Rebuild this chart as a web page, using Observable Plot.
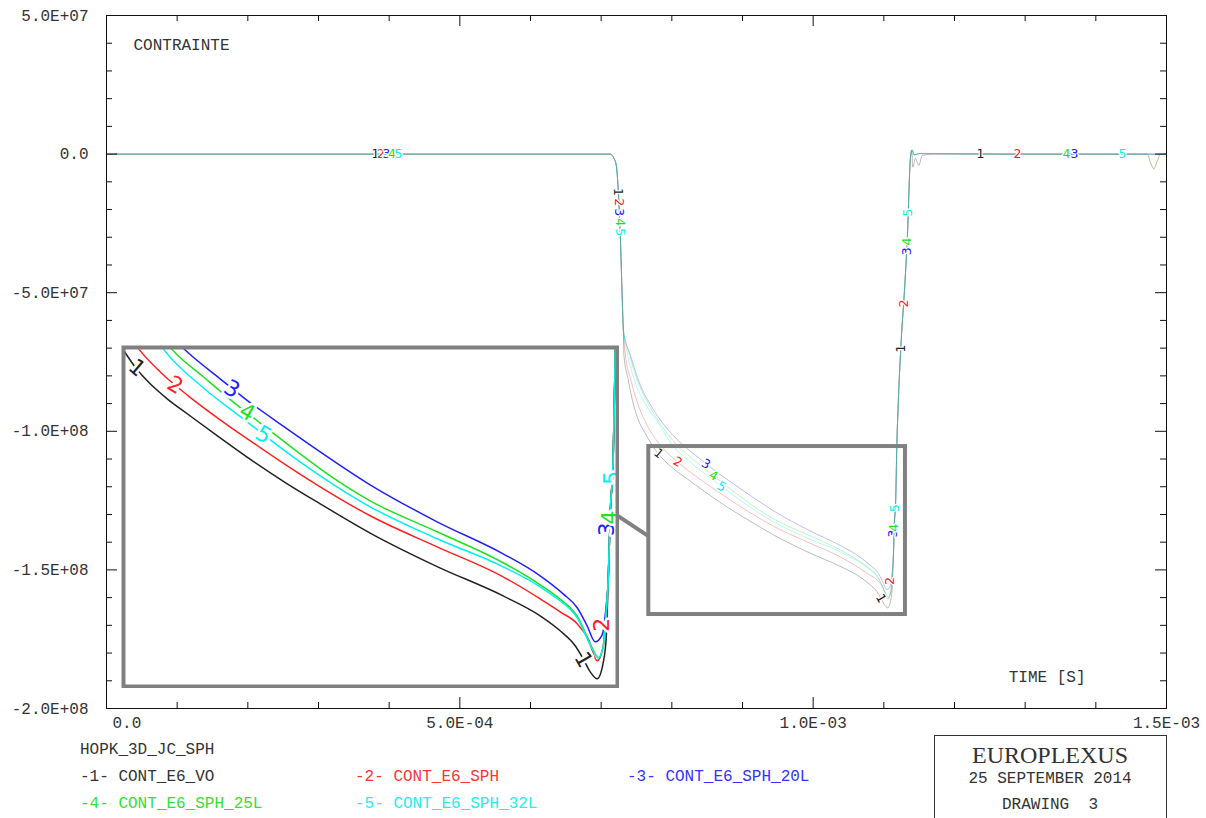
<!DOCTYPE html>
<html><head><meta charset="utf-8">
<script src="https://cdn.jsdelivr.net/npm/d3@7"></script>
<script src="https://cdn.jsdelivr.net/npm/@observablehq/plot@0.6"></script>
<style>
body{margin:0;background:#fff;}
#wrap{position:relative;width:1206px;height:818px;overflow:hidden;background:#fff;}
#main,#inset{position:absolute;}
#main{left:0;top:0;}
#inset{left:121px;top:345px;}
.lg{position:absolute;font-family:"Liberation Mono",monospace;font-size:16px;line-height:16px;white-space:pre;color:#333;}
.bx{position:absolute;left:934px;width:232px;text-align:center;white-space:pre;color:#333;}
#box{position:absolute;left:934px;top:735px;width:231px;height:120px;border:1.5px solid #333;}
</style></head><body>
<div id="wrap"><div id="main"></div><div id="inset"></div></div>
<script>
// ---- data (time in ms, stress in MPa) ----
const plotTitle = "CONTRAINTE";
const xTitle = "TIME [S]";
const legendTitle = "HOPK_3D_JC_SPH";
const seriesNames = ["CONT_E6_VO","CONT_E6_SPH","CONT_E6_SPH_20L","CONT_E6_SPH_25L","CONT_E6_SPH_32L"];
const seriesColors = ["#222222","#ff2020","#2020ff","#20e020","#00f0f0"];

const xTickValues = [0, 0.5, 1.0, 1.5];
const xTickLabels = ["0.0","5.0E-04","1.0E-03","1.5E-03"];
const yTickValues = [50, 0, -50, -100, -150, -200];
const yTickLabels = ["5.0E+07","0.0","-5.0E+07","-1.0E+08","-1.5E+08","-2.0E+08"];
const xMinorTicks = [0.1,0.2,0.3,0.4,0.6,0.7,0.8,0.9,1.1,1.2,1.3,1.4];
const xMajorTicks = [0.5,1.0];
const yMinorTicks = [40,30,20,10,-10,-20,-30,-40,-60,-70,-80,-90,-110,-120,-130,-140,-160,-170,-180,-190];
const yMajorTicks = [0,-50,-100,-150];

const commonStart = [[0,0],[0.700,0],[0.713,0],[0.718,-1.5],[0.721,-3.5],[0.7238,-11.3],[0.7273,-31.2],[0.7302,-55.3],[0.7314,-63.5]];
const commonRise = [[1.1134,-145.8],[1.1148,-134.0],[1.1169,-123.8],[1.1183,-105.9],[1.1202,-91.3],[1.1246,-67.2],[1.1292,-49.2],[1.1331,-31.2],[1.1377,-1.2]];
const tailPlain = [[1.1401,1.5],[1.1430,-0.3],[1.1500,0.2],[1.2500,0],[1.3500,0],[1.5000,0]];
const tailWiggle = [[1.1395,1.5],[1.1410,-4.7],[1.1448,-1.6],[1.1495,-4.1],[1.1543,-0.5],[1.1700,0],[1.3000,0],[1.5000,0]];
const tailDip = [[1.1401,1.5],[1.1430,-0.3],[1.1500,0.2],[1.3000,0],[1.4727,0],[1.4780,-3.5],[1.4821,-5.3],[1.4870,-2.5],[1.4915,0],[1.5000,0]];

const midVO = [[0.7322,-72.6],[0.7380,-81.0],[0.7440,-88.5],[0.7520,-95.5],[0.7620,-100.6],[0.7720,-104.9],[0.7815,-108.35],[0.7892,-110.50],[0.8026,-113.55],[0.8167,-116.23],[0.8399,-120.53],[0.8632,-124.75],[0.8872,-128.77],[0.9104,-132.36],[0.9456,-137.60],[0.9928,-143.60],[1.0393,-148.85],[1.0654,-152.41],[1.0795,-155.10],[1.0901,-157.79],[1.0957,-160.12],[1.1007,-162.45],[1.1056,-163.70],[1.1098,-160.84],[1.1119,-156.54]];
const midSPH = [[0.7344,-72.6],[0.7415,-81.0],[0.7510,-89.5],[0.7627,-96.7],[0.7815,-104.3],[0.7998,-109.25],[0.8174,-113.01],[0.8399,-117.31],[0.8632,-121.43],[0.8872,-125.55],[0.9104,-129.31],[0.9456,-134.50],[0.9928,-140.06],[1.0393,-145.43],[1.0654,-149.37],[1.0795,-151.70],[1.0915,-153.85],[1.0993,-156.54],[1.1056,-160.48],[1.1098,-157.97],[1.1119,-151.88]];
const mid20L = [[0.7415,-72.6],[0.7557,-83.5],[0.7722,-91.5],[0.7950,-99.5],[0.8174,-105.31],[0.8399,-109.97],[0.8575,-113.55],[0.8871,-118.92],[0.9104,-123.04],[0.9456,-128.95],[0.9928,-135.58],[1.0393,-141.31],[1.0654,-145.25],[1.0816,-148.48],[1.0915,-150.98],[1.0985,-154.21],[1.1042,-157.07],[1.1091,-155.82],[1.1119,-150.63]];
const mid25L = [[0.7391,-71.5],[0.7533,-83.0],[0.7674,-90.5],[0.7864,-98.3],[0.8082,-105.31],[0.8280,-109.6],[0.8490,-114.09],[0.8680,-117.85],[0.8962,-123.40],[0.9104,-126.09],[0.9456,-131.82],[0.9928,-137.37],[1.0393,-142.92],[1.0654,-146.86],[1.0774,-149.03],[1.0915,-152.50],[1.1028,-158.51],[1.1063,-159.94],[1.1098,-157.97],[1.1119,-151.88]];
const mid32L = [[0.7368,-71.5],[0.7486,-82.8],[0.7627,-90.2],[0.7815,-97.3],[0.7998,-104.6],[0.8280,-111.58],[0.8562,-117.13],[0.8808,-121.97],[0.9104,-127.34],[0.9456,-132.89],[0.9928,-138.62],[1.0393,-143.64],[1.0654,-147.22],[1.0774,-149.37],[1.0915,-152.77],[1.1028,-158.69],[1.1063,-159.94],[1.1098,-157.97],[1.1119,-151.88]];

// curve number labels: [series, t, v, rotation]
const curveLabels = [
  [1,0.3807,0,0],[2,0.3884,0,0],[3,0.3962,0,0],[4,0.4040,0,0],[5,0.4132,0,0],
  [1,0.7242,-13.7,90],[2,0.7248,-17.4,90],[3,0.7255,-21.0,90],[4,0.7262,-24.6,90],[5,0.7269,-28.2,90],
  [1,0.7812,-108.0,40],[2,0.8082,-111.1,30],[3,0.8482,-111.8,30],[4,0.8588,-116.0,30],[5,0.8703,-120.0,30],
  [1,1.0958,-160.3,60],[2,1.1092,-154.0,-90],[3,1.1125,-136.9,-90],[4,1.1143,-134.8,-90],[5,1.1160,-127.7,-90],
  [1,1.1241,-70.1,-90],[2,1.1280,-53.9,-90],[3,1.1322,-35.1,-90],[4,1.1330,-31.5,-90],[5,1.1346,-21.1,-90],
  [1,1.2368,0,0],[2,1.2891,0,0],[4,1.3585,0,0],[3,1.3698,0,0],[5,1.4377,0,0]
];

// zoom window (main coords) and inset domain
const zoomBox = {t1:0.7674, t2:1.1306, v1:-166.1, v2:-105.5};
const connector = {t1:0.7231, v1:-130.4, t2:0.7674, v2:-137.9};
const insetX = [0.7718, 1.1199];
const insetY = [-165.08, -104.36];

// ---- build tables ----
const seriesPts = [
  [...commonStart, ...midVO, ...commonRise, ...tailWiggle],
  [...commonStart, ...midSPH, ...commonRise, ...tailDip],
  [...commonStart, ...mid20L, ...commonRise, ...tailPlain],
  [...commonStart, ...mid25L, ...commonRise, ...tailDip],
  [...commonStart, ...mid32L, ...commonRise, ...tailPlain]
];
const table = [];
seriesPts.forEach((pts, i) => pts.forEach(([t, v]) => table.push({s: i + 1, t, v})));
const labelTable = curveLabels.map(([s, t, v, r]) => ({s, t, v, r, txt: String(s)}));
const insetLabels = labelTable.filter(d => d.t >= insetX[0] && d.t <= insetX[1] && d.v >= insetY[0] && d.v <= insetY[1]);
const colorScale = {type: "ordinal", domain: [1,2,3,4,5], range: seriesColors};
const mono = "Liberation Mono, monospace";

const W = 1206, H = 818, ML = 106, MR = 40, MT = 15, MB = 110;
const FW = W - ML - MR, FH = H - MT - MB;

const main = Plot.plot({
  width: W, height: H, marginLeft: ML, marginRight: MR, marginTop: MT, marginBottom: MB,
  x: {domain: [0, 1.5], axis: null},
  y: {domain: [-200, 50], axis: null},
  color: colorScale,
  style: {background: "white", fontFamily: mono},
  marks: [
    Plot.line(table, {x: "t", y: "v", z: "s", stroke: "s", strokeOpacity: 0.3, strokeWidth: 1, curve: "monotone-x"}),
    Plot.text(labelTable, {x: "t", y: "v", text: "txt", fill: "s", rotate: "r", fontSize: 12.5,
      fontFamily: "DejaVu Sans", stroke: "white", strokeWidth: 2.5, paintOrder: "stroke"}),
    Plot.rect([zoomBox], {x1: "t1", x2: "t2", y1: "v1", y2: "v2", fill: "none", stroke: "#808080", strokeWidth: 4}),
    Plot.link([connector], {x1: "t1", y1: "v1", x2: "t2", y2: "v2", stroke: "#808080", strokeWidth: 4}),
    Plot.frame({stroke: "#111", strokeWidth: 1}),
    Plot.tickX(xMinorTicks, {x: d => d, insetTop: FH - 6, stroke: "#111"}),
    Plot.tickX(xMinorTicks, {x: d => d, insetBottom: FH - 6, stroke: "#111"}),
    Plot.tickX(xMajorTicks, {x: d => d, insetTop: FH - 11, stroke: "#111"}),
    Plot.tickX(xMajorTicks, {x: d => d, insetBottom: FH - 11, stroke: "#111"}),
    Plot.tickY(yMinorTicks, {y: d => d, insetRight: FW - 6, stroke: "#111"}),
    Plot.tickY(yMinorTicks, {y: d => d, insetLeft: FW - 6, stroke: "#111"}),
    Plot.tickY(yMajorTicks, {y: d => d, insetRight: FW - 11, stroke: "#111"}),
    Plot.tickY(yMajorTicks, {y: d => d, insetLeft: FW - 11, stroke: "#111"}),
    Plot.text(yTickValues, {x: 0, y: d => d, text: (d, i) => yTickLabels[i], textAnchor: "end", dx: -18,
      fontSize: 16, fontFamily: mono, fill: "#333"}),
    Plot.text(xTickValues.slice(0, 1), {x: d => d, y: -200, text: (d, i) => xTickLabels[i], textAnchor: "start",
      dx: 6, dy: 14, fontSize: 16, fontFamily: mono, fill: "#333"}),
    Plot.text(xTickValues.slice(1), {x: d => d, y: -200, text: (d, i) => xTickLabels[i + 1],
      dy: 14, fontSize: 16, fontFamily: mono, fill: "#333"}),
    Plot.text([plotTitle], {frameAnchor: "top-left", text: d => d, textAnchor: "start", lineAnchor: "middle",
      dx: 27, dy: 29, fontSize: 16, fontFamily: mono, fill: "#333"}),
    Plot.text([xTitle], {frameAnchor: "bottom-right", text: d => d, textAnchor: "end", lineAnchor: "middle",
      dx: -81, dy: -32, fontSize: 16, fontFamily: mono, fill: "#333"})
  ]
});
document.getElementById("main").appendChild(main);

const inset = Plot.plot({
  width: 498, height: 343, margin: 2,
  x: {domain: insetX, axis: null},
  y: {domain: insetY, axis: null},
  color: colorScale,
  style: {background: "white"},
  marks: [
    Plot.line(table, {x: "t", y: "v", z: "s", stroke: "s", strokeWidth: 1.5, curve: "monotone-x", clip: true}),
    Plot.text(insetLabels, {x: "t", y: "v", text: "txt", fill: "s", rotate: "r", fontSize: 22,
      fontFamily: "DejaVu Sans", stroke: "white", strokeWidth: 5, paintOrder: "stroke"}),
    Plot.frame({stroke: "#808080", strokeWidth: 4})
  ]
});
document.getElementById("inset").appendChild(inset);

// ---- legend & stamp (HTML text) ----
const wrap = document.getElementById("wrap");
function addDiv(cls, text, left, top, color, extra) {
  const d = document.createElement("div");
  d.className = cls; d.textContent = text;
  if (left != null) d.style.left = left + "px";
  d.style.top = top + "px";
  if (color) d.style.color = color;
  if (extra) Object.assign(d.style, extra);
  wrap.appendChild(d);
}
const legendColors = ["#333333","#ff3333","#3333ff","#33e033","#22eeee"];
const legendPos = [[80,769],[355,769],[627,769],[80,796],[355,796]];
addDiv("lg", legendTitle, 80, 742, "#333");
seriesNames.forEach((n, i) => addDiv("lg", `-${i+1}- ${n}`, legendPos[i][0], legendPos[i][1], legendColors[i]));
const box = document.createElement("div"); box.id = "box"; wrap.appendChild(box);
addDiv("bx", "EUROPLEXUS", null, 741, null, {fontFamily: "Liberation Serif, serif", fontSize: "24px", lineHeight: "28px"});
addDiv("bx", "25 SEPTEMBER 2014", null, 771, null, {fontFamily: mono, fontSize: "16px", lineHeight: "16px"});
addDiv("bx", "DRAWING  3", null, 797, null, {fontFamily: mono, fontSize: "16px", lineHeight: "16px"});
</script>
</body></html>
